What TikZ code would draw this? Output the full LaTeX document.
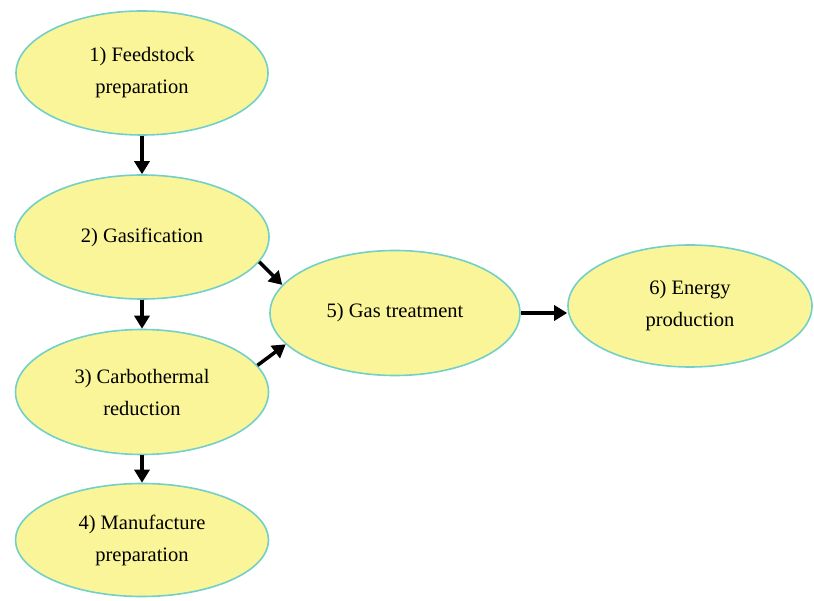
\documentclass[tikz,border=0pt]{standalone}
\usepackage{fontspec}
\setmainfont{Liberation Serif}
\usetikzlibrary{shapes.geometric,arrows.meta}
\definecolor{ellfill}{RGB}{250,245,152}
\definecolor{ellline}{RGB}{115,208,200}
\tikzset{
  stage/.style={ellipse, draw=ellline, line width=1.6pt, fill=ellfill, inner sep=0pt,
    align=center, font=\fontsize{20.5}{32}\selectfont, text=black},
  flow/.style={line width=3.5pt, -{Triangle[length=13pt,width=15pt]}}
}
\begin{document}
\begin{tikzpicture}[x=1pt,y=-1pt]
\useasboundingbox (0,0) rectangle (814,601);
\node[stage, minimum width=252pt, minimum height=124pt] (n1) at (142,73) {1) Feedstock\\preparation};
\node[stage, minimum width=254pt, minimum height=124pt] (n2) at (142,237) {2) Gasification};
\node[stage, minimum width=253pt, minimum height=125pt] (n3) at (142,392) {3) Carbothermal\\reduction};
\node[stage, minimum width=253pt, minimum height=113pt] (n4) at (142,540) {4) Manufacture\\preparation};
\node[stage, minimum width=250pt, minimum height=125pt] (n5) at (395,313) {5) Gas treatment};
\node[stage, minimum width=244pt, minimum height=122pt] (n6) at (690,306) {6) Energy\\production};
\draw[flow] (n1.south) -- (n2.north);
\draw[flow] (n2.south) -- (n3.north);
\draw[flow] (n3.south) -- (n4.north);
\draw[flow] (n2.-12) -- (n5.166);
\draw[flow] (n3.13) -- (n5.-164);
\draw[flow] (n5.east) -- (n5.east -| n6.west);
\end{tikzpicture}
\end{document}
